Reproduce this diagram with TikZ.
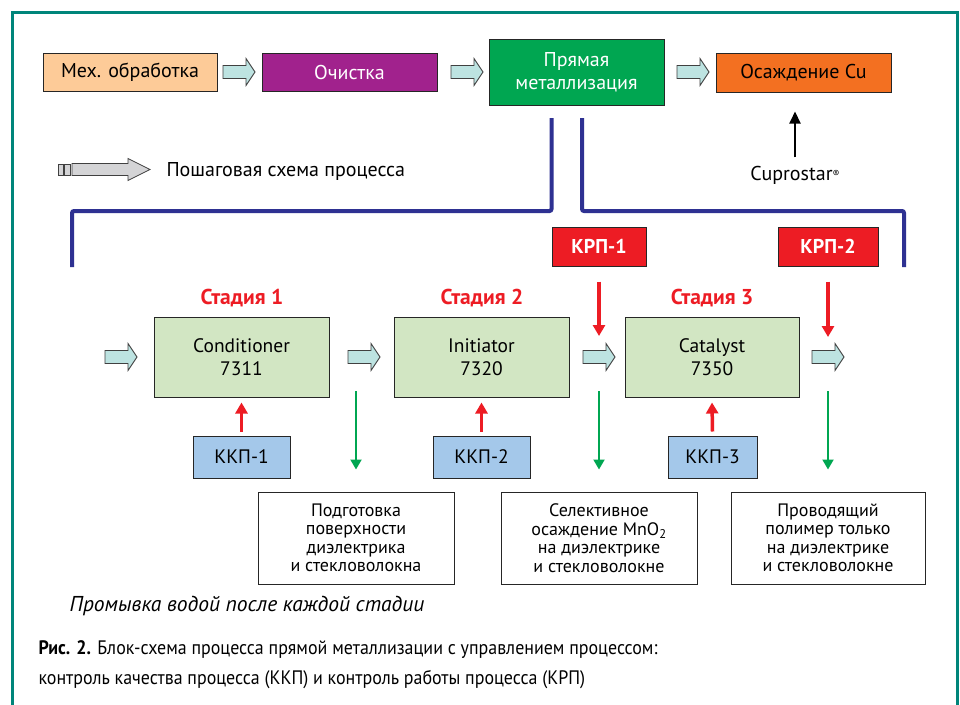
\documentclass[tikz,border=0pt]{standalone}
\usepackage{fontspec}
\setmainfont{PT Sans}
\newfontfamily\capfont[FakeStretch=0.92]{PT Sans}
\usetikzlibrary{arrows.meta}
\definecolor{frameteal}{HTML}{00857A}
\definecolor{peach}{HTML}{FDCB98}
\definecolor{purp}{HTML}{A1228D}
\definecolor{grn}{HTML}{00A651}
\definecolor{orng}{HTML}{F37021}
\definecolor{harrowfill}{HTML}{BDE3E1}
\definecolor{brblue}{HTML}{2E3192}
\definecolor{redc}{HTML}{ED1C24}
\definecolor{stagefill}{HTML}{D2E6C3}
\definecolor{kkpfill}{HTML}{A4C8EA}
\definecolor{legfill}{HTML}{D4D4D6}
\tikzset{
  box/.style={draw=black!85, line width=1pt, inner sep=0pt, align=center, font=\fontsize{20}{23}\selectfont},
  stagebox/.style={box, fill=stagefill, minimum width=175pt, minimum height=80pt, font=\fontsize{19.5}{23}\selectfont},
  kkp/.style={box, fill=kkpfill, minimum height=42pt, font=\fontsize{19.5}{23}\selectfont},
  krp/.style={box, fill=redc, text=white, minimum height=39pt, font=\fontsize{20}{23}\selectfont\bfseries},
  resbox/.style={box, fill=white, minimum width=196pt, minimum height=92pt, font=\fontsize{18}{18.5}\selectfont},
  stagelbl/.style={text=redc, font=\fontsize{21.5}{24}\selectfont\bfseries},
  plain/.style={font=\fontsize{20}{23}\selectfont},
  bracket/.style={draw=brblue, line width=4pt, rounded corners=2pt},
  redarrow/.style={draw=redc, line width=3.5pt, -{Triangle[length=11pt,width=12pt]}},
  grnarrow/.style={draw=grn, line width=2pt, -{Triangle[length=10pt,width=11pt]}},
  blkarrow/.style={draw=black, line width=2pt, -{Triangle[length=12pt,width=11pt]}},
  harrow/.pic={\draw[fill=harrowfill, draw=black!75, line width=0.9pt]
     (0,-6.5) -- (23,-6.5) -- (23,-13.5) -- (32,0) -- (23,13.5) -- (23,6.5) -- (0,6.5) -- cycle;},
  legarrow/.pic={\draw[fill=legfill, draw=black!75, line width=0.8pt]
     (14,-6) -- (70,-6) -- (70,-11) -- (92,0) -- (70,11) -- (70,6) -- (14,6) -- cycle;
     \draw[fill=legfill, draw=black!75, line width=0.8pt] (0,-5.5) rectangle (5,5.5);
     \draw[fill=legfill, draw=black!75, line width=0.8pt] (6.5,-5.5) rectangle (12,5.5);}
}
\begin{document}
\begin{tikzpicture}[x=1pt,y=-1pt]
\useasboundingbox (0,0) rectangle (960,704);
\fill[white] (0,0) rectangle (960,704);
% frame
\draw[frameteal, line width=3pt] (12,708) -- (12,12) -- (957,12) -- (957,708);

% top row
\node[box, fill=peach, minimum width=174pt, minimum height=38pt] (mex) at (130,72) {Мех. обработка};
\node[box, fill=purp, text=white, minimum width=175pt, minimum height=38pt] (och) at (349.5,72) {Очистка};
\node[box, fill=grn, text=white, minimum width=175pt, minimum height=66pt] (pm) at (576.5,72) {Прямая\\металлизация};
\node[box, fill=orng, minimum width=175pt, minimum height=39pt] (cu) at (803.5,72.5) {Осаждение Cu};
\pic at (223,72) {harrow};
\pic at (451,72) {harrow};
\pic at (677,72) {harrow};

\node[plain] (cupro) at (795,175) {Cuprostar{\fontsize{10}{10}\selectfont\raisebox{3pt}{®}}};
\coordinate (cuin) at (795,0);
\draw[blkarrow] ([yshift=5pt]cupro.north -| cuin) -- ([yshift=-19pt]cu.south -| cuin);

% legend
\pic at (58,169.5) {legarrow};
\node[plain, anchor=west] (leg) at (163,171) {Пошаговая схема процесса};

% bracket
\coordinate (bl0) at (551.5,118);
\coordinate (bl1) at (551.5,211);
\coordinate (bl2) at (72,211);
\coordinate (bl3) at (72,267);
\coordinate (br0) at (582,118);
\coordinate (br1) at (582,211);
\coordinate (br2) at (904,211);
\coordinate (br3) at (904,267);
\draw[bracket] (bl0) -- (bl1) -- (bl2) -- (bl3);
\draw[bracket] (br0) -- (br1) -- (br2) -- (br3);

% KRP
\node[krp, minimum width=94pt] (r1) at (599,246.5) {КРП-1};
\node[krp, minimum width=100pt] (r2) at (828,246.5) {КРП-2};

% stages
\node[stagelbl] (st1) at (242,298) {Стадия 1};
\node[stagelbl] (st2) at (482,298) {Стадия 2};
\node[stagelbl] (st3) at (712,298) {Стадия 3};
\node[stagebox] (s1) at (241.5,357) {Conditioner\\7311};
\node[stagebox] (s2) at (481.5,357) {Initiator\\7320};
\node[stagebox, minimum width=174pt] (s3) at (712,357) {Catalyst\\7350};
\pic at (105,357) {harrow};
\pic at (348,357) {harrow};
\pic at (583,357) {harrow};
\pic at (812,357) {harrow};

\coordinate (t1) at (599,336);
\coordinate (t2) at (828,337);
\draw[redarrow] ([yshift=-15pt]r1.south) -- (t1);
\draw[redarrow] ([yshift=-15pt]r2.south) -- (t2);

% KKP
\node[kkp, minimum width=97pt] (k1) at (241.5,457) {ККП-1};
\node[kkp, minimum width=97pt] (k2) at (481.5,457) {ККП-2};
\node[kkp, minimum width=89pt] (k3) at (712.5,457) {ККП-3};
\draw[redarrow] ([yshift=4pt]k1.north) -- ([yshift=-5pt]s1.south);
\draw[redarrow] ([yshift=4pt]k2.north) -- ([yshift=-5pt]s2.south);
\draw[redarrow] ([yshift=4pt]k3.north) -- ([yshift=-5pt]s3.south);

% results
\node[resbox] (b1) at (356,538) {Подготовка\\поверхности\\диэлектрика\\и стекловолокна};
\node[resbox] (b2) at (599,538) {Селективное\\осаждение MnO\textsubscript{2}\\на диэлектрике\\и стекловолокне};
\node[resbox, minimum width=194pt] (b3) at (828,538) {Проводящий\\полимер только\\на диэлектрике\\и стекловолокне};
\coordinate (g1) at (356,391);
\coordinate (g2) at (599,391);
\coordinate (g3) at (828,391);
\draw[grnarrow] (g1) -- ([yshift=22pt]b1.north);
\draw[grnarrow] (g2) -- ([yshift=22pt]b2.north);
\draw[grnarrow] (g3) -- ([yshift=22pt]b3.north);

% notes
\node[anchor=west, font=\fontsize{21.5}{24}\selectfont\itshape] (wash) at (66,606) {Промывка водой после каждой стадии};
\node[anchor=west, font=\capfont\fontsize{19.5}{22}\selectfont] (cap1) at (35,650) {\textbf{Рис. 2.} Блок-схема процесса прямой металлизации с управлением процессом:};
\node[anchor=west, font=\capfont\fontsize{19.5}{22}\selectfont] (cap2) at (35,680) {контроль качества процесса (ККП) и контроль работы процесса (КРП)};
\end{tikzpicture}
\end{document}
